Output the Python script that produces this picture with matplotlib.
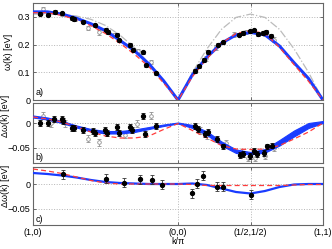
import matplotlib
matplotlib.use('Agg')
import matplotlib.pyplot as plt

# path coordinate: (1,0)=0, (0,0)=1, (1/2,1/2)=1.5, (1,1)=2
kx = [0.0, 0.1, 0.2, 0.3, 0.4, 0.5, 0.6, 0.7, 0.8, 0.9, 1.0,
      1.1, 1.2, 1.3, 1.4, 1.5, 1.6, 1.7, 1.8, 1.9, 2.0]
tick_pos = [0, 1, 1.5, 2]
tick_labels = ['(1,0)', '(0,0)', '(1/2,1/2)', '(1,1)']

# panel a: dispersion
w_fit = [0.318, 0.318, 0.31, 0.295, 0.275, 0.25, 0.215, 0.178, 0.13, 0.07, 0.0,
         0.092, 0.155, 0.205, 0.235, 0.244, 0.235, 0.195, 0.135, 0.078, 0.0]
w_red = [0.315, 0.315, 0.305, 0.29, 0.268, 0.24, 0.205, 0.165, 0.12, 0.062, 0.0,
         0.085, 0.15, 0.205, 0.24, 0.25, 0.24, 0.19, 0.128, 0.068, 0.0]
w_lsw = [0.31, 0.31, 0.309, 0.303, 0.291, 0.269, 0.234, 0.189, 0.132, 0.068, 0.0,
         0.1, 0.185, 0.255, 0.298, 0.31, 0.298, 0.255, 0.185, 0.1, 0.0]

a_bk_x = [0.048, 0.106, 0.152, 0.198, 0.267, 0.285, 0.347, 0.428, 0.503, 0.519,
          0.577, 0.593, 0.669, 0.692, 0.756, 0.777, 0.848,
          1.117, 1.145, 1.179, 1.209, 1.274, 1.312, 1.419, 1.446, 1.494, 1.522,
          1.552, 1.586, 1.609, 1.643]
a_bk_y = [0.311, 0.308, 0.317, 0.313, 0.295, 0.292, 0.283, 0.269, 0.254, 0.245,
          0.236, 0.215, 0.198, 0.182, 0.172, 0.125, 0.096,
          0.105, 0.122, 0.144, 0.173, 0.2, 0.208, 0.236, 0.242, 0.248, 0.251,
          0.238, 0.242, 0.245, 0.232]
a_gr_x = [0.067, 0.2, 0.29, 0.381, 0.457, 0.56, 0.722, 0.811,
          1.19, 1.26, 1.384, 1.47, 1.6, 1.66]
a_gr_y = [0.327, 0.31, 0.292, 0.26, 0.244, 0.235, 0.176, 0.138,
          0.15, 0.19, 0.236, 0.245, 0.238, 0.218]

# panel b: dispersion correction, band limits
b_lo = [0.011, 0.007, 0.0, -0.009, -0.017, -0.021, -0.021, -0.018, -0.012, -0.006, -0.001,
        -0.01, -0.024, -0.045, -0.06, -0.063, -0.059, -0.045, -0.027, -0.01, 0.0]
b_hi = [0.015, 0.011, 0.004, -0.005, -0.012, -0.016, -0.016, -0.013, -0.008, -0.003, 0.001,
        -0.004, -0.017, -0.037, -0.053, -0.058, -0.052, -0.034, -0.015, 0.0, 0.004]
b_red = [0.012, 0.008, 0.002, -0.008, -0.018, -0.026, -0.03, -0.03, -0.026, -0.013, -0.001,
         -0.015, -0.03, -0.045, -0.052, -0.053, -0.052, -0.045, -0.032, -0.018, 0.0]

b_bk_x = [0.048, 0.106, 0.145, 0.198, 0.21, 0.267, 0.285, 0.343, 0.416, 0.428,
          0.497, 0.513, 0.582, 0.595, 0.669, 0.685, 0.756, 0.772, 0.848,
          1.117, 1.14, 1.186, 1.209, 1.267, 1.308, 1.428, 1.45, 1.497, 1.526,
          1.542, 1.595, 1.611, 1.645]
b_bk_y = [0.0, 0.0, 0.009, 0.009, 0.004, -0.009, -0.009, -0.013, -0.015, -0.019,
          -0.013, -0.019, -0.008, -0.019, -0.007, -0.013, 0.015, -0.021, -0.005,
          -0.006, -0.011, -0.021, -0.018, -0.031, -0.047, -0.065, -0.063, -0.067, -0.056,
          -0.063, -0.06, -0.047, -0.045]
b_gr_x = [0.067, 0.125, 0.22, 0.381, 0.457, 0.634, 0.715, 0.811,
          1.15, 1.2, 1.33, 1.44, 1.48, 1.53, 1.6, 1.66]
b_gr_y = [0.015, 0.0, 0.0, -0.031, -0.038, -0.023, -0.001, 0.015,
          -0.015, -0.024, -0.04, -0.06, -0.07, -0.07, -0.066, -0.05]

# panel c
c_fit = [0.022, 0.02, 0.017, 0.013, 0.008, 0.004, 0.002, 0.001, 0.0, 0.0, 0.0,
         0.001, -0.002, -0.009, -0.016, -0.019, -0.014, -0.006, -0.001, 0.0, 0.0]
c_red = [0.03, 0.026, 0.021, 0.014, 0.007, 0.002, 0.0, 0.0, 0.0, 0.0, 0.0,
         -0.001, -0.003, -0.003, -0.003, -0.003, -0.003, -0.003, -0.002, -0.001, -0.001]
c_bk_x = [0.21, 0.503, 0.628, 0.738, 0.821, 0.887, 1.099, 1.133, 1.174, 1.271, 1.312, 1.501]
c_bk_y = [0.02, 0.011, 0.003, 0.01, 0.009, -0.001, -0.018, 0.001, 0.017, -0.005, -0.005, -0.021]

BLUE = '#1a3cff'
RED = '#ff3b3b'
plt.rcParams['font.size'] = 6.5
plt.rcParams['font.family'] = ['Liberation Sans', 'DejaVu Sans']
plt.rcParams['axes.unicode_minus'] = True

fig = plt.figure(figsize=(3.32, 2.49), dpi=100)
ax_a = fig.add_axes([0.0994, 0.598, 0.8735, 0.390])
ax_b = fig.add_axes([0.0994, 0.3454, 0.8735, 0.2409])
ax_c = fig.add_axes([0.0994, 0.0964, 0.8735, 0.2329])


def style(ax, yticks, ylim, label):
    ax.set_xlim(0, 2)
    ax.set_ylim(*ylim)
    ax.set_xticks(tick_pos)
    ax.set_yticks(yticks)
    ax.grid(True, linestyle=':', color='#b5b5b5', linewidth=0.7)
    ax.tick_params(direction='in', top=True, right=True, length=2.5,
                   width=0.6, color='#555555', pad=2, labelsize=6.5)
    for s in ax.spines.values():
        s.set_color('#666666')
        s.set_linewidth(0.8)
    ax.text(0.008, 0.05, label, transform=ax.transAxes, fontsize=6.5)


# a)
ax = ax_a
ax.plot(kx, w_lsw, color='#bbbbbb', linestyle='-.', linewidth=0.9, zorder=2)
ax.errorbar(a_gr_x, a_gr_y, yerr=0.008, fmt='o', ms=2.6, mfc='white', mec='#909090',
            ecolor='#909090', elinewidth=0.6, capsize=1.5, capthick=0.6, mew=0.6, zorder=3)
ax.plot(kx, w_fit, color=BLUE, linewidth=2.2, zorder=4)
ax.plot(kx, w_red, color=RED, linestyle=(0, (4, 2.5)), linewidth=0.9, zorder=5)
ax.errorbar(a_bk_x, a_bk_y, yerr=0.006, fmt='o', ms=2.8, color='black',
            elinewidth=0.6, capsize=1.5, capthick=0.6, zorder=6)
style(ax, [0, 0.1, 0.2, 0.3], (0, 0.35), 'a)')
ax.set_yticklabels(['0', '0.1', '0.2', '0.3'])
ax.set_xticklabels([])
ax.set_ylabel('ω(k) [eV]')
ax.yaxis.set_label_coords(-0.068, 0.5)

# b)
ax = ax_b
ax.errorbar(b_gr_x, b_gr_y, yerr=0.007, fmt='o', ms=2.6, mfc='white', mec='#909090',
            ecolor='#909090', elinewidth=0.6, capsize=1.5, capthick=0.6, mew=0.6, zorder=3)
ax.fill_between(kx, b_lo, b_hi, color=BLUE, linewidth=0.8, edgecolor=BLUE, zorder=4)
ax.plot(kx, b_red, color=RED, linestyle=(0, (4, 2.5)), linewidth=0.9, zorder=5)
ax.errorbar(b_bk_x, b_bk_y, yerr=0.006, fmt='o', ms=2.8, color='black',
            elinewidth=0.6, capsize=1.5, capthick=0.6, zorder=6)
style(ax, [-0.05, 0], (-0.08, 0.04), 'b)')
ax.set_yticklabels(['\u22120.05', '0'])
ax.set_xticklabels([])
ax.set_ylabel('Δω(k) [eV]')
ax.yaxis.set_label_coords(-0.08, 0.78)

# c)
ax = ax_c
ax.plot(kx, c_fit, color=BLUE, linewidth=1.6, zorder=4)
ax.plot(kx, c_red, color=RED, linestyle=(0, (4, 2.5)), linewidth=0.9, zorder=5)
ax.errorbar(c_bk_x, c_bk_y, yerr=0.009, fmt='o', ms=2.8, color='black',
            elinewidth=0.6, capsize=1.5, capthick=0.6, ecolor='#333333', zorder=6)
style(ax, [-0.05, 0], (-0.082, 0.034), 'c)')
ax.set_yticklabels(['\u22120.05', '0'])
ax.set_xticklabels(tick_labels)
ax.set_ylabel('Δω(k) [eV]')
ax.yaxis.set_label_coords(-0.08, 0.68)
ax.set_xlabel('k/π')
ax.xaxis.set_label_coords(0.5, -0.21)

fig.savefig('out.png', dpi=100)
